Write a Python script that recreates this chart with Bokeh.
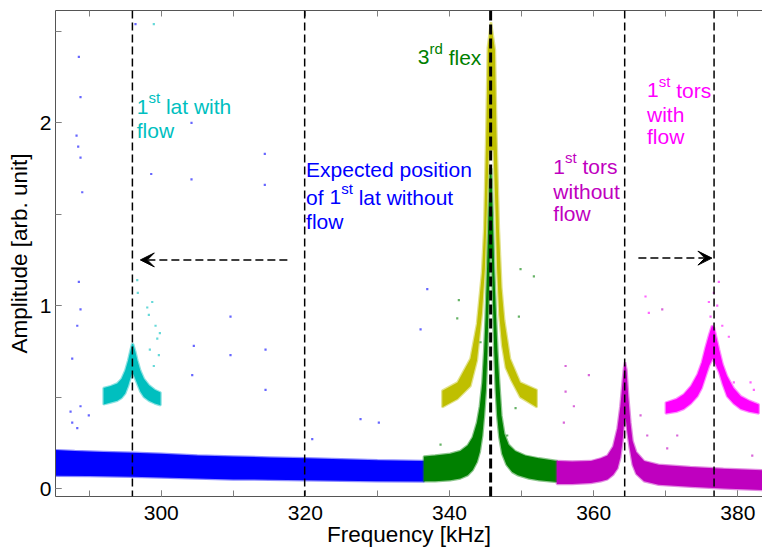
from bokeh.plotting import figure
from bokeh.models import Range1d, LinearAxis, FixedTicker, Span, Arrow, VeeHead, Label
from bokeh.embed import file_html
from bokeh.resources import INLINE

FONT = "Liberation Sans"

# ---------------- data ----------------
# axis ticks
x_major_ticks = [300, 320, 340, 360, 380]
x_all_ticks = [290, 300, 310, 320, 330, 340, 350, 360, 370, 380]
y_major_ticks = [0, 1, 2]
y_all_ticks = [0, 0.5, 1, 1.5, 2, 2.5]

# band envelopes (frequency kHz, amplitude) : top edge and bottom edge
blue_top_f = [285.33, 288, 292, 296, 300, 305, 310, 315, 320, 325, 330, 336.44]
blue_top_a = [0.21, 0.205, 0.20, 0.195, 0.19, 0.18, 0.175, 0.17, 0.165, 0.16, 0.155, 0.15]
blue_bot_f = [285.33, 290, 296, 300, 305, 310, 315, 320, 325, 330, 336.44]
blue_bot_a = [0.07, 0.068, 0.065, 0.06, 0.055, 0.05, 0.048, 0.045, 0.043, 0.04, 0.038]

green_top_f = [336.44, 338.0, 340.1, 341.5, 342.5, 343.2, 343.8, 344.2, 344.55, 344.8, 345.0, 345.2,
               345.4, 345.6, 345.8, 346.0, 346.2, 346.45, 346.65, 346.9, 347.2, 347.6, 348.2, 349.1,
               350.5, 352.4, 354.9]
green_top_a = [0.175, 0.18, 0.19, 0.205, 0.235, 0.28, 0.36, 0.45, 0.58, 0.75, 0.94, 1.2,
               1.5, 1.75, 1.75, 1.5, 1.2, 0.94, 0.75, 0.58, 0.40, 0.30, 0.24, 0.205,
               0.18, 0.165, 0.15]
green_bot_f = [336.44, 338.0, 340.1, 341.5, 342.5, 343.2, 343.8, 344.2, 344.55, 344.8, 345.05, 345.25,
               345.45, 345.6, 345.85, 346.0, 346.2, 346.4, 346.6, 346.9, 347.3, 347.9, 348.7, 349.5,
               351.0, 352.4, 354.9]
green_bot_a = [0.04, 0.04, 0.045, 0.055, 0.072, 0.10, 0.145, 0.20, 0.29, 0.40, 0.54, 0.75,
               1.05, 1.3, 1.3, 1.05, 0.75, 0.54, 0.40, 0.28, 0.19, 0.13, 0.09, 0.072,
               0.055, 0.045, 0.036]

yellow_top_f = [339.0, 341.1, 342.9, 343.8, 344.5, 344.8, 345.1, 345.3, 345.75,
                346.3, 346.5, 346.85, 347.2, 347.6, 348.4, 349.8, 352.1]
yellow_top_a = [0.535, 0.58, 0.71, 0.90, 1.18, 1.42, 1.96, 2.41, 2.55,
                2.40, 1.96, 1.42, 1.10, 0.92, 0.71, 0.58, 0.54]
yellow_bot_f = [339.0, 341.1, 342.9, 343.8, 344.5, 344.9, 345.15, 345.45, 346.1,
                346.4, 346.6, 346.9, 347.3, 347.8, 348.6, 349.8, 352.1]
yellow_bot_a = [0.445, 0.49, 0.56, 0.70, 0.96, 1.2, 1.5, 1.85, 1.85,
                1.5, 1.2, 0.95, 0.78, 0.66, 0.59, 0.50, 0.445]

cyan_top_f = [292.0, 293.0, 293.9, 294.5, 295.0, 295.4, 295.7, 295.95, 296.1, 296.4, 296.7, 297.1,
              297.6, 298.3, 299.1, 299.9]
cyan_top_a = [0.55, 0.56, 0.575, 0.60, 0.645, 0.70, 0.75, 0.79, 0.79, 0.75, 0.70, 0.645,
              0.60, 0.565, 0.54, 0.525]
cyan_bot_f = [292.0, 293.0, 293.9, 294.5, 295.0, 295.4, 295.7, 296.0, 296.3, 296.7, 297.1,
              297.6, 298.3, 299.1, 299.9]
cyan_bot_a = [0.46, 0.47, 0.48, 0.495, 0.52, 0.56, 0.60, 0.635, 0.61, 0.57, 0.53,
              0.50, 0.48, 0.465, 0.455]

purple_top_f = [354.9, 357.0, 359.6, 361.0, 361.9, 362.7, 363.3, 363.7, 364.0, 364.2, 364.35,
                364.55, 364.8, 365.1, 365.4, 365.9, 367.0, 369.0, 373.4, 378.0, 383.42]
purple_top_a = [0.15, 0.148, 0.15, 0.165, 0.18, 0.23, 0.33, 0.45, 0.58, 0.66, 0.69,
                0.65, 0.50, 0.36, 0.26, 0.20, 0.15, 0.13, 0.118, 0.108, 0.10]
purple_bot_f = [354.9, 357.0, 359.6, 361.0, 361.9, 362.7, 363.3, 363.7, 364.0, 364.25, 364.45,
                364.7, 365.0, 365.4, 365.9, 367.0, 369.0, 373.4, 378.0, 383.42]
purple_bot_a = [0.025, 0.025, 0.03, 0.04, 0.05, 0.075, 0.11, 0.17, 0.26, 0.38, 0.38,
                0.30, 0.22, 0.13, 0.08, 0.04, 0.02, 0.01, 0.0, -0.008]

magenta_top_f = [370.0, 371.5, 372.5, 373.5, 374.4, 375.0, 375.5, 376.0, 376.4, 376.7, 377.0,
                 377.4, 377.9, 378.5, 379.4, 380.4, 381.6, 382.9]
magenta_top_a = [0.47, 0.49, 0.515, 0.56, 0.625, 0.69, 0.77, 0.84, 0.89, 0.88, 0.83,
                 0.76, 0.68, 0.615, 0.55, 0.505, 0.48, 0.46]
magenta_bot_f = [370.0, 371.5, 372.5, 373.5, 374.4, 375.0, 375.5, 376.0, 376.5, 376.9,
                 377.4, 377.9, 378.5, 379.4, 380.4, 381.6, 382.9]
magenta_bot_a = [0.41, 0.42, 0.435, 0.465, 0.505, 0.55, 0.61, 0.67, 0.71, 0.68,
                 0.635, 0.57, 0.505, 0.465, 0.435, 0.42, 0.41]

# isolated outlier samples (frequency kHz, amplitude)
blue_out_f = [287.42, 287.65, 288.8, 289.95, 288.35, 304.52, 304.3, 309.61, 309.61, 314.47, 314.47,
              320.95, 327.65, 330.19, 288.57, 288.35, 287.65, 288.8, 335.98, 336.91,
              288.57, 288.8, 288.25, 288.48, 288.8, 298.61, 304.2, 304.2, 314.37, 314.37, 289.04, 296.43]
blue_out_a = [0.42, 0.36, 0.45, 0.40, 0.33, 0.78, 0.62, 0.94, 0.73, 0.76, 0.54,
              0.27, 0.38, 0.36, 1.13, 0.89, 0.71, 0.98, 0.87, 1.09,
              2.36, 2.14, 1.93, 1.87, 1.81, 1.72, 2.0, 1.69, 1.83, 1.66, 1.62, 2.54]
cyan_out_f = [298.06, 298.75, 299.21, 299.45, 298.42, 299.67, 298.97, 296.67, 296.75, 298.28, 299.81, 298.97]
cyan_out_a = [0.99, 1.02, 0.89, 0.82, 0.76, 0.73, 0.67, 1.14, 1.07, 0.95, 0.85, 2.54]
green_out_f = [341.29, 341.07, 338.75, 338.99, 344.3, 349.85, 351.7, 349.62, 349.16, 348.0, 347.08]
green_out_a = [1.03, 0.93, 0.24, 0.15, 0.80, 1.20, 1.16, 0.94, 0.44, 0.29, 0.33]
purple_out_f = [356.1, 356.1, 355.86, 359.33, 366.5, 367.43, 370.2, 371.59, 382.0, 369.51, 357.25]
purple_out_a = [0.67, 0.53, 0.36, 0.62, 0.40, 0.29, 0.22, 0.29, 0.18, 0.98, 0.45]
magenta_out_f = [376.67, 377.14, 376.21, 377.36, 377.84, 375.98, 378.75, 381.76, 382.22, 379.44, 367.19, 367.65]
magenta_out_a = [1.07, 1.0, 0.94, 1.13, 0.89, 1.02, 0.83, 0.58, 0.54, 0.58, 1.05, 0.96]

# dashed marker lines (kHz)
marker_f = [296.0, 319.9, 364.3, 376.7]
flex_marker_f = [345.7]

# arrows: (start f, start a, end f, end a)
arrow_left = [317.5, 1.25, 297.1, 1.25]
arrow_right = [366.2, 1.26, 376.4, 1.26]

# annotations: (lines; each line = list of (text, superscript?)), x, baseline ys, colour
annotations = [
    ([[("1", False), ("st", True), (" lat with", False)], [("flow", False)]],
     296.6, [2.087, 1.960], "#00BFBF"),
    ([[("3", False), ("rd", True), (" flex", False)]],
     335.6, [2.359], "#008000"),
    ([[("Expected position", False)], [("of ", False), ("1", False), ("st", True), (" lat without", False)],
      [("flow", False)]],
     320.1, [1.746, 1.594, 1.461], "#0000FF"),
    ([[("1", False), ("st", True), (" tors", False)], [("without", False)], [("flow", False)]],
     354.4, [1.760, 1.624, 1.503], "#BF00BF"),
    ([[("1", False), ("st", True), (" tors", False)], [("with", False)], [("flow", False)]],
     367.4, [2.178, 2.046, 1.924], "#FF00FF"),
]

# ---------------- figure ----------------
p = figure(width=762, height=549, output_backend="svg", toolbar_location=None,
           x_range=Range1d(285.33, 383.42), y_range=Range1d(-0.0436, 2.614),
           min_border_left=55, min_border_right=0, min_border_top=10, min_border_bottom=51)
p.background_fill_color = "white"
p.border_fill_color = "white"
p.outline_line_color = None
p.xgrid.visible = False
p.ygrid.visible = False

AX_COL = "#555555"
TICK_COL = "#808080"

xa = p.xaxis[0]
xa.ticker = FixedTicker(ticks=x_major_ticks, minor_ticks=x_all_ticks)
ya = p.yaxis[0]
ya.ticker = FixedTicker(ticks=y_major_ticks, minor_ticks=y_all_ticks)
for ax in (xa, ya):
    ax.axis_line_color = AX_COL
    ax.major_tick_in = 6
    ax.major_tick_out = 0
    ax.minor_tick_in = 6
    ax.minor_tick_out = 0
    ax.major_tick_line_color = TICK_COL
    ax.minor_tick_line_color = TICK_COL
    ax.major_label_text_font = FONT
    ax.major_label_text_font_size = "21px"
    ax.major_label_text_color = "black"
    ax.axis_label_text_font = FONT
    ax.axis_label_text_font_size = "22.5px"
    ax.axis_label_text_font_style = "normal"
    ax.axis_label_text_color = "black"

xa.axis_label = "Frequency [kHz]"
xa.major_label_standoff = 9
xa.axis_label_standoff = -1
ya.axis_label = "Amplitude [arb. unit]"
ya.major_label_standoff = 4
ya.axis_label_standoff = 5

top = LinearAxis(ticker=FixedTicker(ticks=x_all_ticks), axis_line_color=AX_COL,
                 major_tick_in=6, major_tick_out=0, major_tick_line_color=TICK_COL,
                 minor_tick_line_color=None, major_label_text_font_size="0px",
                 major_label_text_color=None, major_label_standoff=0)
p.add_layout(top, "above")

bands = [
    (blue_top_f, blue_top_a, blue_bot_f, blue_bot_a, "#0000FF"),
    (green_top_f, green_top_a, green_bot_f, green_bot_a, "#008000"),
    (purple_top_f, purple_top_a, purple_bot_f, purple_bot_a, "#BF00BF"),
    (yellow_top_f, yellow_top_a, yellow_bot_f, yellow_bot_a, "#BFBF00"),
    (cyan_top_f, cyan_top_a, cyan_bot_f, cyan_bot_a, "#00BFBF"),
    (magenta_top_f, magenta_top_a, magenta_bot_f, magenta_bot_a, "#FF00FF"),
]
for tf, ta, bf, ba, col in bands:
    xs = list(tf) + list(bf)[::-1]
    ys = list(ta) + list(ba)[::-1]
    p.patch(xs, ys, fill_color=col, fill_alpha=1.0, line_color=col, line_width=2.5, line_alpha=0.45)

outliers = [
    (blue_out_f, blue_out_a, "#0000FF"),
    (cyan_out_f, cyan_out_a, "#00BFBF"),
    (green_out_f, green_out_a, "#008000"),
    (purple_out_f, purple_out_a, "#BF00BF"),
    (magenta_out_f, magenta_out_a, "#FF00FF"),
]
for f, a, col in outliers:
    p.scatter(f, a, size=2.2, marker="square", fill_color=col, line_color=None, fill_alpha=0.6)

for f in marker_f:
    p.add_layout(Span(location=f, dimension="height", line_color="black",
                      line_dash="8 4", line_width=1.5))
for f in flex_marker_f:
    p.add_layout(Span(location=f, dimension="height", line_color="black",
                      line_dash="10 4", line_width=3))

for a in (arrow_left, arrow_right):
    p.add_layout(Arrow(end=VeeHead(size=14, fill_color="black", line_color="black", line_width=1),
                       x_start=a[0], y_start=a[1], x_end=a[2], y_end=a[3],
                       line_color="black", line_dash="8 4", line_width=1.5))

# approximate Arial advance widths (em) for offsetting text pieces
W = {"1": 0.556, "3": 0.556, "s": 0.5, "t": 0.278, "r": 0.333, "d": 0.556,
     "o": 0.556, "f": 0.278, " ": 0.278}
MAIN, SUP = 21, 15
for lines, x0, ys, col in annotations:
    for parts, yb in zip(lines, ys):
        off = 0.0
        for s, sup in parts:
            size = SUP if sup else MAIN
            lead = len(s) - len(s.lstrip(" "))
            off += lead * W[" "] * size
            core = s.strip(" ")
            p.add_layout(Label(x=x0, y=yb, x_offset=off, y_offset=9 if sup else 0, text=core,
                               text_font=FONT, text_font_size=f"{size}px", text_color=col,
                               text_baseline="alphabetic", text_align="left"))
            off += sum(W.get(c, 0.556) for c in core) * size
            trail = len(s) - len(s.rstrip(" "))
            off += trail * W[" "] * size

open("out.html", "w").write(file_html(p, INLINE))
